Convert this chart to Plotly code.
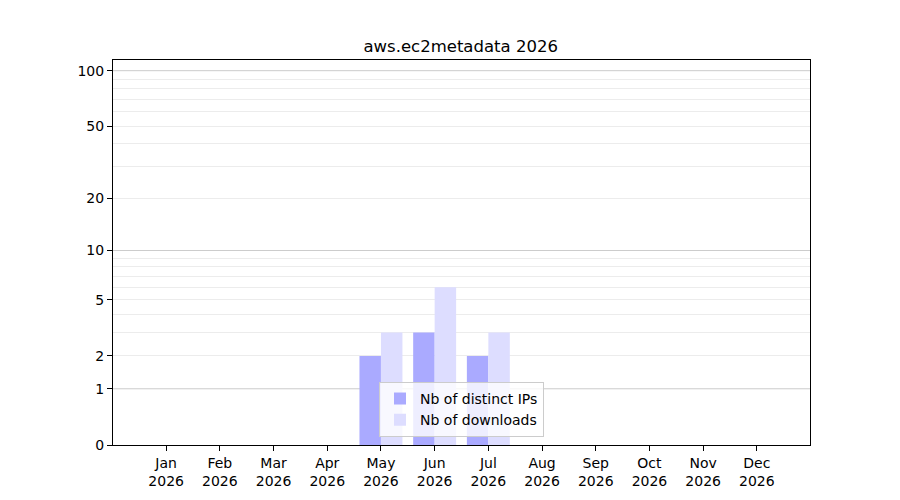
import plotly.graph_objs as go

# data
months = ['Jan', 'Feb', 'Mar', 'Apr', 'May', 'Jun', 'Jul', 'Aug', 'Sep', 'Oct', 'Nov', 'Dec']
year = 2026
distinct_ips = [0, 0, 0, 0, 2, 3, 2, 0, 0, 0, 0, 0]
downloads = [0, 0, 0, 0, 3, 6, 3, 0, 0, 0, 0, 0]
y_tick_labels = [0, 1, 2, 5, 10, 20, 50, 100]

# the y scale is log10(value + 1): a log axis on value + 1
month_pos = list(range(len(months)))
tick_labels = ['%s<br>%d' % (m, year) for m in months]
shift = lambda v: v + 1

major_grid = [shift(v) for v in (1, 10, 100)]
minor_grid = [shift(v) for v in list(range(2, 10)) + list(range(20, 100, 10))]

fig = go.Figure()
fig.add_trace(go.Bar(x=[p - 0.2 for p in month_pos], y=distinct_ips, base=1, width=0.4,
                     name='Nb of distinct IPs', marker_color='rgb(170,170,255)',
                     marker_line_width=0))
fig.add_trace(go.Bar(x=[p + 0.2 for p in month_pos], y=downloads, base=1, width=0.4,
                     name='Nb of downloads', marker_color='rgb(221,221,255)',
                     marker_line_width=0))

for g in major_grid:
    fig.add_hline(y=g, line_color='#cccccc', line_width=1, layer='below')

fig.update_layout(
    width=900, height=500,
    margin=dict(l=105, r=98, t=52, b=63),
    paper_bgcolor='white', plot_bgcolor='white',
    font=dict(family='DejaVu Sans', size=14, color='black'),
    title=dict(text='aws.ec2metadata 2026', x=0.503, xanchor='center',
               y=0.924, yanchor='middle', font=dict(size=16.5)),
    barmode='overlay',
    showlegend=True,
    legend=dict(x=0.5, xanchor='center', y=0.021, yanchor='bottom',
                bgcolor='rgba(255,255,255,0.8)', bordercolor='#cccccc', borderwidth=1,
                font=dict(size=14), tracegroupgap=0, itemwidth=30),
    xaxis=dict(range=[-0.99, 11.99], tickmode='array', tickvals=month_pos, ticktext=tick_labels,
               showgrid=False, zeroline=False, showline=True, mirror=True,
               linecolor='black', linewidth=1, ticks='outside', ticklen=5,
               tickcolor='black'),
    yaxis=dict(type='log', range=[0, 2.0615], tickmode='array',
               tickvals=[shift(v) for v in y_tick_labels],
               ticktext=[str(v) for v in y_tick_labels],
               showgrid=False, zeroline=False, showline=True, mirror=True,
               linecolor='black', linewidth=1, ticks='outside', ticklen=5,
               tickcolor='black',
               minor=dict(tickmode='array', tickvals=minor_grid, showgrid=True,
                          gridcolor='#ececec', gridwidth=1, ticks='')),
)

fig.write_html('out.html')
